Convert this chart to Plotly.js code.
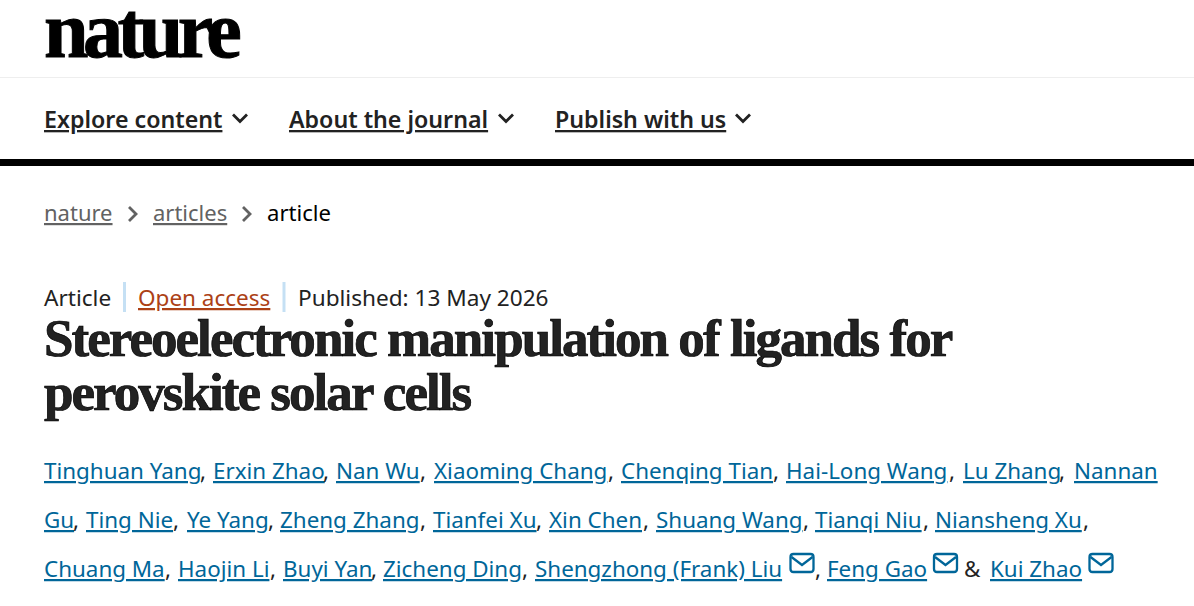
<!DOCTYPE html>
<html>
<head>
<meta charset="utf-8">
<script src="https://cdn.plot.ly/plotly-3.0.1.min.js"></script>
<style>
html, body { margin: 0; padding: 0; background: #fff; overflow: hidden; }
#page { width: 1194px; height: 606px; }
.annotation-text { text-decoration-thickness: 2px; text-decoration-skip-ink: none; }
</style>
</head>
<body>
<div id="page"></div>
<script>
const SANS = "'Noto Sans', 'Open Sans', sans-serif",
  SERIF = "'Liberation Serif', 'DejaVu Serif', serif",
  INK = "#222222",
  GREY = "#626262",
  LINK = "#006699",
  ORANGE = "#ac4116";

const journal_name = "nature";
const nav_labels = ["Explore content", "About the journal", "Publish with us"];
const crumb_labels = ["nature", "articles", "article"];
const article_type = "Article";
const access_label = "Open access";
const published_label = "Published: 13 May 2026";
const title_lines = ["Stereoelectronic manipulation of ligands for", "perovskite solar cells"];
const author_row1 = ["Tinghuan Yang", "Erxin Zhao", "Nan Wu", "Xiaoming Chang", "Chenqing Tian", "Hai-Long Wang", "Lu Zhang", "Nannan"];
const author_row2 = ["Gu", "Ting Nie", "Ye Yang", "Zheng Zhang", "Tianfei Xu", "Xin Chen", "Shuang Wang", "Tianqi Niu", "Niansheng Xu"];
const author_row3 = ["Chuang Ma", "Haojin Li", "Buyi Yan", "Zicheng Ding", "Shengzhong (Frank) Liu", "Feng Gao", "Kui Zhao"];

// left edges
const nav_x = [44, 289, 555], crumb_x = [44, 153, 267];
const row1_x = [44, 213, 336, 434, 621, 786, 963, 1074];
const row2_x = [44, 86, 187, 280, 433, 549, 656, 815, 935];
const row3_x = [44, 178, 283, 383, 535, 827, 990];

var annos = [], shapes = [];

function txt(x, y, s, size, color, family, under, weight) {
  annos.push({
    x: x, y: y, text: s, xref: "x", yref: "y", xanchor: "left", yanchor: "middle",
    showarrow: false, borderpad: 0, borderwidth: 0,
    font: {size: size, color: color, family: family, weight: weight || 400, lineposition: under ? "under" : "none"}
  });
}

// heavy tight serif used by the masthead and the headline
function heavy(s, spacing, sw) {
  return `<span style="letter-spacing:${spacing}px;stroke:currentColor;stroke-width:${sw}px">${s}</span>`;
}

function stroke(x0, y0, x1, y1, color, width) {
  shapes.push({type: "line", xref: "x", yref: "y", x0: x0, y0: y0, x1: x1, y1: y1, line: {color: color, width: width}});
}

function chevron_down(x, y) {
  shapes.push({type: "path", xref: "x", yref: "y", path: `M${x},${y} L${x+7},${y+7} L${x+14},${y}`, line: {color: INK, width: 2.8}});
}

function chevron_right(x, y) {
  shapes.push({type: "path", xref: "x", yref: "y", path: `M${x},${y} L${x+7},${y+7} L${x},${y+14}`, line: {color: GREY, width: 2.8}});
}

function mail_icon(x, y) {
  shapes.push({type: "path", xref: "x", yref: "y", path: `M${x+3},${y} L${x+20},${y} Q${x+23},${y} ${x+23},${y+3} L${x+23},${y+15} Q${x+23},${y+18} ${x+20},${y+18} L${x+3},${y+18} Q${x},${y+18} ${x},${y+15} L${x},${y+3} Q${x},${y} ${x+3},${y} Z`, line: {color: LINK, width: 2.3}});
  shapes.push({type: "path", xref: "x", yref: "y", path: `M${x+1},${y+3} L${x+11.5},${y+11} L${x+22},${y+3}`, line: {color: LINK, width: 2.3}});
}

// header
txt(44, 30, heavy(journal_name, -5.5, 1), 80, "#000000", SERIF, false, 700);
stroke(0, 77.5, 1194, 77.5, "#eeeeee", 1);
nav_labels.forEach((s, i) => txt(nav_x[i], 119, s, 23.2, INK, SANS, true, 600));
[233, 499, 736].forEach(x => chevron_down(x, 114.5));
shapes.push({type: "rect", xref: "x", yref: "y", x0: 0, x1: 1194, y0: 159, y1: 166, fillcolor: "#000000", line: {width: 0}});

// breadcrumbs
txt(crumb_x[0], 212, crumb_labels[0], 22, GREY, SANS, true);
txt(crumb_x[1], 212, crumb_labels[1], 22, GREY, SANS, true);
txt(crumb_x[2], 212, crumb_labels[2], 22.1, "#000000", SANS, false);
[129, 243].forEach(x => chevron_right(x, 207));

// article meta
txt(44, 297, article_type, 22.6, INK, SANS, false);
stroke(124.5, 282, 124.5, 312, "#c5e0f4", 3);
txt(138, 297, access_label, 22.5, ORANGE, SANS, true);
stroke(284, 282, 284, 312, "#c5e0f4", 3);
txt(298, 297, published_label, 22.6, INK, SANS, false);

// title
title_lines.forEach((s, i) => txt(44, 338 + i*54, heavy(s, -1.95, 0.7), 53, INK, SERIF, false, 700));

// authors
function author_row(names, xs, y) {
  names.forEach((s, i) => txt(xs[i], y, s, 22.4, LINK, SANS, true));
}
author_row(author_row1, row1_x, 470);
author_row(author_row2, row2_x, 519);
author_row(author_row3, row3_x, 568);

// commas between the names
[200, 323, 420, 608, 773, 949, 1059].forEach(x => txt(x, 470, ",", 22.4, INK, SANS, false));
[73, 173, 268, 420, 536, 643, 803, 923, 1083].forEach(x => txt(x, 519, ",", 22.4, INK, SANS, false));
[165, 270, 371, 522, 815].forEach(x => txt(x, 568, ",", 22.4, INK, SANS, false));
txt(964, 568, "&", 22.4, INK, SANS, false);
[790.5, 934, 1089.5].forEach(x => mail_icon(x, 554));

var layout = {
  width: 1194, height: 606,
  margin: {l: 0, r: 0, t: 0, b: 0},
  paper_bgcolor: "#ffffff", plot_bgcolor: "#ffffff",
  showlegend: false,
  xaxis: {range: [0, 1194], visible: false, fixedrange: true},
  yaxis: {range: [606, 0], visible: false, fixedrange: true},
  annotations: annos,
  shapes: shapes
};

Plotly.newPlot("page", [], layout, {displayModeBar: false, staticPlot: true});
</script>
</body>
</html>
